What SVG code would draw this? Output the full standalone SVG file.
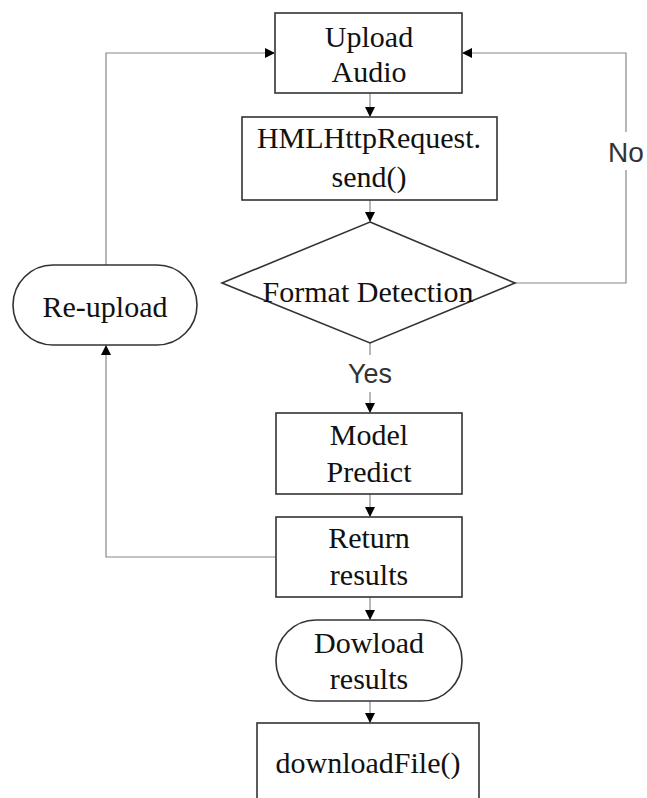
<svg xmlns="http://www.w3.org/2000/svg" width="647" height="798" viewBox="0 0 647 798">
<defs>
<marker id="ah" viewBox="0 0 10 10" refX="10" refY="5" markerWidth="10" markerHeight="10" markerUnits="userSpaceOnUse" orient="auto">
<path d="M0,0 L10,5 L0,10 z" fill="#000"/>
</marker>
<style>
.box{fill:#fff;stroke:#333;stroke-width:1.6}
.t{font-family:"Liberation Serif","Times New Roman",serif;font-size:30px;fill:#111;text-anchor:middle}
.s{font-family:"Liberation Sans",Arial,sans-serif;font-size:28px;fill:#333;text-anchor:middle}
.c{fill:none;stroke:#888;stroke-width:1.2}
</style>
</defs>
<rect width="647" height="798" fill="#fff"/>
<g id="connectors">
<path class="c" d="M370,93 V117" marker-end="url(#ah)"/>
<path class="c" d="M370,200 V222" marker-end="url(#ah)"/>
<path class="c" d="M370,343 V355"/>
<path class="c" d="M370,392 V413" marker-end="url(#ah)"/>
<path class="c" d="M370,494 V517" marker-end="url(#ah)"/>
<path class="c" d="M370,597 V620" marker-end="url(#ah)"/>
<path class="c" d="M370,701 V723" marker-end="url(#ah)"/>
<path class="c" d="M515,283 H626 V170"/>
<path class="c" d="M626,132 V53 H462" marker-end="url(#ah)"/>
<path class="c" d="M276,557 H106 V345" marker-end="url(#ah)"/>
<path class="c" d="M106,265 V53 H275" marker-end="url(#ah)"/>
<text class="s" x="626" y="162">No</text>
<text class="s" x="370" y="383" textLength="44" lengthAdjust="spacingAndGlyphs">Yes</text>
</g>
<g id="upload">
<rect class="box" x="275" y="13" width="187" height="80"/>
<text class="t" x="369" y="47">Upload</text>
<text class="t" x="369" y="82">Audio</text>
</g>
<g id="send">
<rect class="box" x="242" y="117" width="255" height="83"/>
<text class="t" x="369" y="148">HMLHttpRequest.</text>
<text class="t" x="369" y="187">send()</text>
</g>
<g id="format">
<polygon class="box" points="370,222 515,283 370,343 222,283"/>
<text class="t" x="368" y="302">Format Detection</text>
</g>
<g id="reupload">
<rect class="box" x="13" y="265" width="184" height="80" rx="40" ry="40"/>
<text class="t" x="105" y="317">Re-upload</text>
</g>
<g id="predict">
<rect class="box" x="276" y="413" width="186" height="81"/>
<text class="t" x="369" y="445">Model</text>
<text class="t" x="369" y="482">Predict</text>
</g>
<g id="return">
<rect class="box" x="276" y="517" width="186" height="80"/>
<text class="t" x="369" y="548">Return</text>
<text class="t" x="369" y="585">results</text>
</g>
<g id="dowload">
<rect class="box" x="276" y="620" width="186" height="81" rx="40" ry="40"/>
<text class="t" x="369" y="653">Dowload</text>
<text class="t" x="369" y="689">results</text>
</g>
<g id="downloadfile">
<rect class="box" x="257" y="723" width="222" height="100"/>
<text class="t" x="368" y="773">downloadFile()</text>
</g>
</svg>
